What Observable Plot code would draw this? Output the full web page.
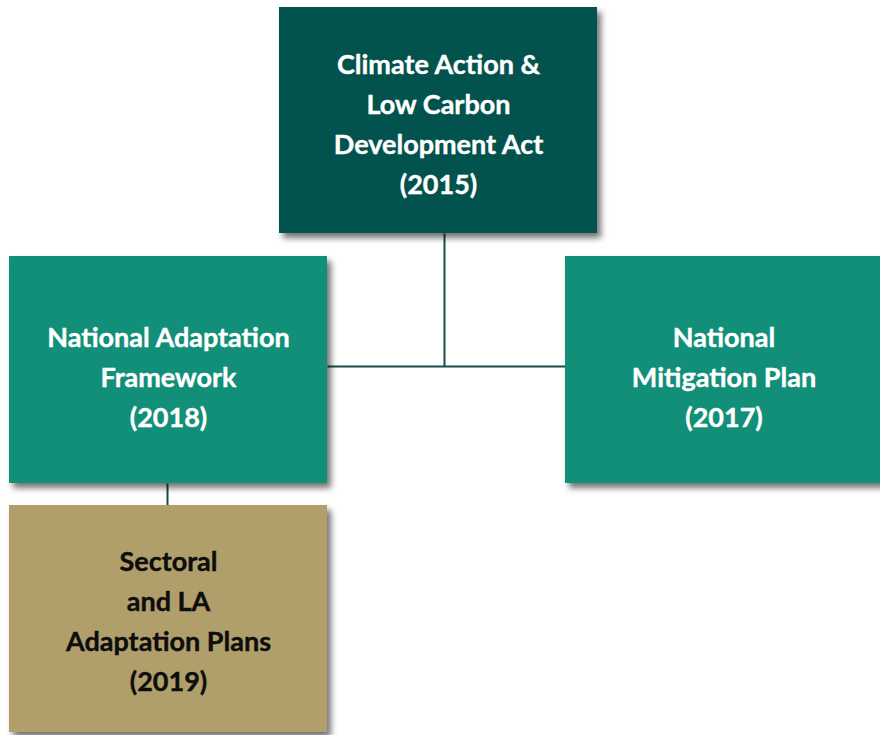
<!DOCTYPE html>
<html>
<head>
<meta charset="utf-8">
<script src="https://cdn.jsdelivr.net/npm/d3@7"></script>
<script src="https://cdn.jsdelivr.net/npm/@observablehq/plot@0.6"></script>
<style>
  html, body { margin: 0; padding: 0; background: #ffffff; }
  #chart svg g[aria-label="rect"] rect { filter: drop-shadow(4px 5px 3px rgba(0,0,0,0.55)); }
</style>
</head>
<body>
<div id="chart"></div>
<script>
// Node labels
const labels = [
  "Climate Action &\nLow Carbon\nDevelopment Act\n(2015)",
  "National Adaptation\nFramework\n(2018)",
  "National\nMitigation Plan\n(2017)",
  "Sectoral\nand LA\nAdaptation Plans\n(2019)"
];
// Node boxes (diagram layout units)
const boxLeft   = [279, 9, 565, 9];
const boxRight  = [597, 327, 882, 327];
const boxTop    = [7, 256, 256, 505];
const boxBottom = [233, 483, 483, 732];
const labelShift = [0, 3, 3, -2];
const fills     = ["#02524d", "#128f78", "#128f78", "#b09f6b"];
const inks      = ["#ffffff", "#ffffff", "#ffffff", "#0d0d0d"];
// connector anchors
const trunkX = 444, busY = 366, branchX = 167;

const nodes = labels.map((label, i) => ({
  label, x1: boxLeft[i], x2: boxRight[i], y1: boxTop[i], y2: boxBottom[i],
  fill: fills[i], ink: inks[i],
  cx: (boxLeft[i] + boxRight[i]) / 2, cy: (boxTop[i] + boxBottom[i]) / 2 + labelShift[i]
}));

const segs = [
  {x1: trunkX, y1: nodes[0].y2, x2: trunkX, y2: busY},
  {x1: nodes[1].x2, y1: busY, x2: nodes[2].x1, y2: busY},
  {x1: branchX, y1: nodes[1].y2, x2: branchX, y2: nodes[3].y1}
];

const chart = Plot.plot({
  width: 880,
  height: 735,
  margin: 0,
  x: {domain: [0, 880], range: [0, 880], axis: null},
  y: {domain: [0, 735], range: [0, 735], axis: null},
  style: {background: "#ffffff", overflow: "visible"},
  marks: [
    Plot.link(segs, {x1: "x1", y1: "y1", x2: "x2", y2: "y2", stroke: "#154f4c", strokeWidth: 2}),
    Plot.rect(nodes, {x1: "x1", x2: "x2", y1: "y1", y2: "y2", fill: d => d.fill}),
    Plot.text(nodes, {
      x: "cx", y: "cy", dy: 1, text: "label", fill: d => d.ink, stroke: d => d.ink, strokeWidth: 0.4,
      fontSize: 27, fontWeight: "bold", fontFamily: "Lato",
      lineHeight: 1.48, letterSpacing: "-0.6px", textAnchor: "middle"
    })
  ]
});
document.getElementById("chart").appendChild(chart);
</script>
</body>
</html>
